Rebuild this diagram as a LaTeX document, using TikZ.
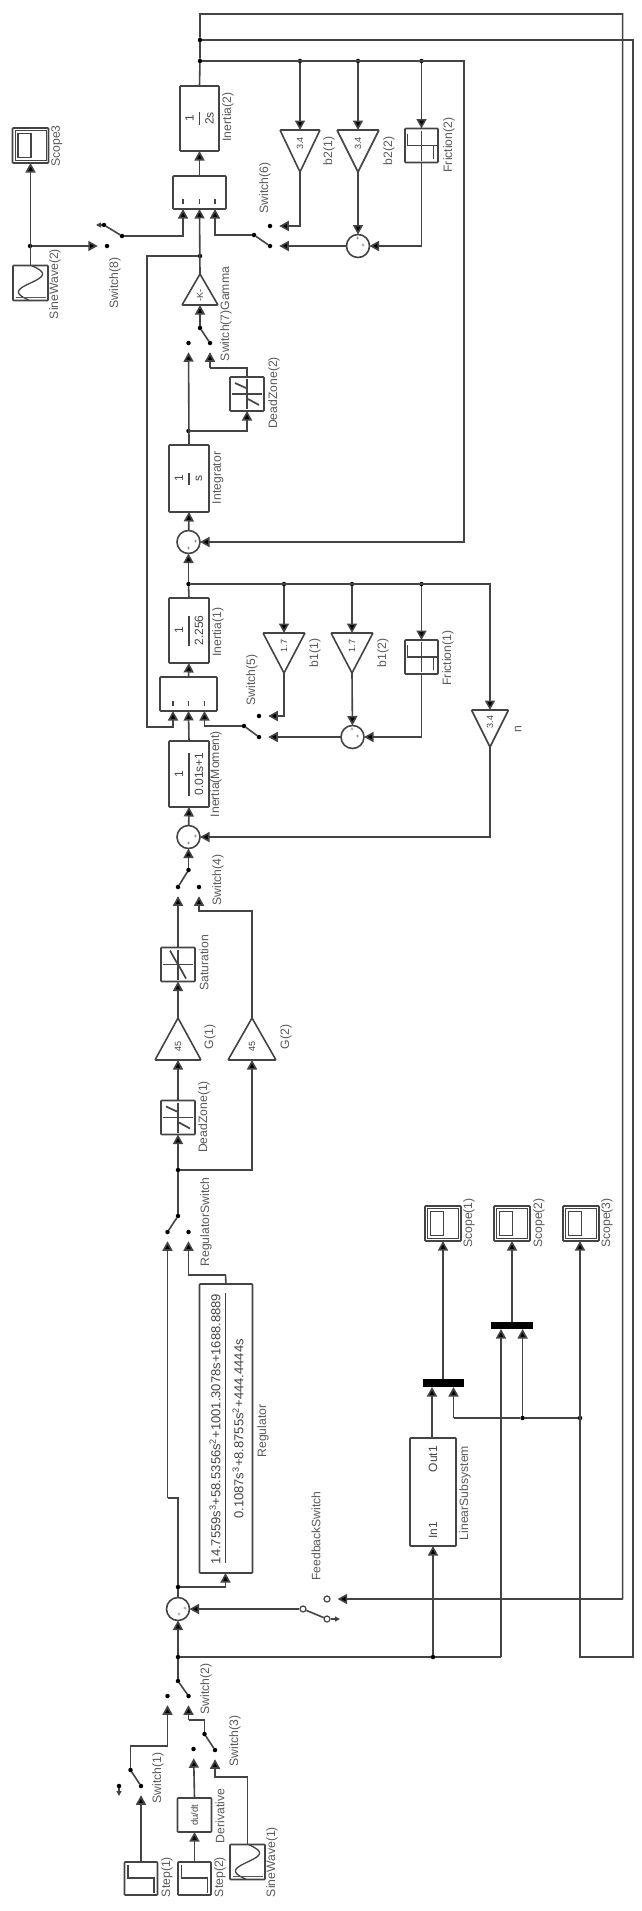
\documentclass[tikz,border=0pt]{standalone}
\usepackage{fontspec}
\setmainfont{Liberation Sans}
\usetikzlibrary{arrows.meta}
\definecolor{ln}{HTML}{444444}
\definecolor{lbl}{HTML}{5A5A5A}
\tikzset{
  wire/.style={draw=ln,line width=1.6pt},
  arr/.style={wire,-{Triangle[length=9.5pt,width=10pt,fill=black]}},
  toterm/.style={arr,shorten >=7pt},
  blk/.style={draw=ln,line width=1.6pt,rounded corners=0.8pt,fill=white,inner sep=0pt,outer sep=0pt},
  jn/.style={circle,fill=black,inner sep=0pt,minimum size=4.5pt,outer sep=0pt},
  sumnode/.style={circle,draw=ln,line width=1.6pt,inner sep=0pt,minimum size=23pt,outer sep=0pt,fill=white},
  lab/.style={rotate=90,text=lbl,inner sep=0pt,font=\fontsize{12.2}{13}\selectfont},
  val/.style={rotate=90,text=ln,inner sep=0pt,font=\fontsize{12}{13}\selectfont},
  icon/.style={draw=ln,line width=1.3pt},
  tiny/.style={text=ln,inner sep=0pt,font=\fontsize{6}{6}\selectfont},
}
% name, cx, cy, w, h
\newcommand{\bbox}[5]{\node[blk,minimum width=#4pt,minimum height=#5pt] (#1) at (#2,#3) {};}
% name, cx, cy, w, h, num, den, linelen
\newcommand{\fracbox}[8]{\bbox{#1}{#2}{#3}{#4}{#5}
  \node[val] (#1n) at (#2-10,#3) {#6};
  \node[val] (#1d) at (#2+10,#3) {#7};
  \draw[icon] (#2,#3-#8/2) -- (#2,#3+#8/2);}
% name, cx, baseY, apexY, halfw, text
\newcommand{\gainblk}[6]{\coordinate (#1in) at (#2,#3);\coordinate (#1out) at (#2,#4);
  \draw[blk] (#2-#5,#3) -- (#2+#5,#3) -- (#2,#4) -- cycle;
  \node[val,font=\fontsize{9}{10}\selectfont] (#1t) at (#2,#3*0.68+#4*0.32) {#6};}
\newcommand{\scopeblk}[3]{\bbox{#1}{#2}{#3}{36}{35}
  \draw[icon,line width=.7pt] (#2-15.5,#3-15) rectangle (#2+15.5,#3+15);
  \draw[icon] (#2-12.5,#3-12) rectangle (#2+0.5,#3+12);}
\newcommand{\stepblk}[3]{\bbox{#1}{#2}{#3}{33}{33}
  \draw[icon] (#2-13,#3-14) -- (#2-13,#3-0.5) -- (#2+13,#3-0.5) -- (#2+13,#3+14);}
\newcommand{\sineblk}[3]{\bbox{#1}{#2}{#3}{35}{35}
  \draw[icon] plot[domain=5:355,samples=50,smooth] ({#2-12*sin(\x)},{#3+18-\x/10});
  \draw[icon,draw=lbl,line width=1.8pt] (#2-15,#3+14.5) -- (#2+15,#3+14.5);}
\newcommand{\crossicon}[2]{\draw[icon] (#1-15,#2) -- (#1+15,#2) (#1,#2-15) -- (#1,#2+15);}
\newcommand{\dzblk}[3]{\bbox{#1}{#2}{#3}{34}{34}\crossicon{#2}{#3}
  \draw[icon,line width=1.7pt] (#2-12,#3-11) -- (#2-1,#3-6) (#2+1,#3+5) -- (#2+12,#3+11);}
\newcommand{\satblk}[3]{\bbox{#1}{#2}{#3}{34}{34}\crossicon{#2}{#3}
  \draw[icon,line width=1.7pt] (#2-8,#3-14) -- (#2-3,#3-5) -- (#2+3,#3+5) -- (#2+8,#3+14);}
\newcommand{\fricblk}[3]{\bbox{#1}{#2}{#3}{33}{34}\crossicon{#2}{#3}
  \draw[icon] (#2-14,#3-12) -- (#2-14,#3) -- (#2+12,#3) -- (#2+12,#3+13);}
% name, cx, cy, mark1 dx dy, mark2 dx dy
\newcommand{\sumb}[7]{\node[sumnode] (#1) at (#2,#3) {};
  \node[tiny] (#1p) at (#2+#4,#3+#5) {+};\node[tiny] (#1q) at (#2+#6,#3+#7) {+};}
\newcommand{\lbl}[4]{\node[lab] (#1) at (#2,#3) {#4};}
\begin{document}
\begin{tikzpicture}[x=1pt,y=-1pt]
\useasboundingbox (0,0) rectangle (642,1911);
\fill[white] (0,0) rectangle (642,1911);

% ---------- blocks, top stage
\fracbox{ineB}{199.5}{118.5}{39}{65}{1}{2s}{13}
\bbox{muxB}{199.5}{192.5}{53}{33}
\draw[icon] (183,199) -- (183,204) (199.5,199) -- (199.5,204) (215,199) -- (215,204);
\gainblk{bBa}{300}{130}{172}{20}{3.4}
\gainblk{bBb}{358}{130}{172}{21}{3.4}
\fricblk{fricB}{421.5}{145.5}
\sumb{sumBi}{358}{246}{-0.5}{-7}{5}{0}
\scopeblk{scopeT}{30.5}{145.5}
\sineblk{sineB}{30.5}{283}
\gainblk{gam}{200}{305}{274}{18}{-K-}
\dzblk{dzB}{247}{394}
\fracbox{integ}{189}{478.5}{40}{67}{1}{s}{12}
\sumb{sumBo}{188.5}{542}{0}{7}{7}{0}

% ---------- blocks, second stage
\fracbox{ineA}{189}{630.5}{40}{65}{1}{2.256}{30}
\bbox{muxA}{188.5}{694}{57}{34}
\draw[icon] (173,701) -- (173,706) (188.5,701) -- (188.5,706) (204.5,701) -- (204.5,706);
\gainblk{bAa}{284}{633}{673}{21}{1.7}
\gainblk{bAb}{352}{633}{673}{21}{1.7}
\fricblk{fricA}{421.5}{657}
\sumb{sumAi}{352.5}{737}{-0.5}{-7}{5}{0}
\gainblk{ngain}{490}{710}{747}{18.5}{3.4}
\fracbox{ineM}{189}{774}{40}{66}{1}{0.01s+1}{43}
\sumb{sumM}{188.5}{837}{0}{7}{7}{0}

% ---------- blocks, amplifier
\satblk{sat}{178}{964.5}
\gainblk{Ga}{178}{1060}{1018}{23}{45}
\gainblk{Gb}{252}{1060}{1018}{24}{45}
\dzblk{dzA}{178}{1117.5}

% ---------- regulator
\bbox{reg}{226}{1428.5}{53}{289}
\node[val,font=\fontsize{13}{14}\selectfont] (regn) at (215,1429) {14.7559s\textsuperscript{3}+58.5356s\textsuperscript{2}+1001.3078s+1688.8889};
\node[val,font=\fontsize{13}{14}\selectfont] (regd) at (238,1429) {0.1087s\textsuperscript{3}+8.8755s\textsuperscript{2}+444.4444s};
\draw[icon] (225.5,1293) -- (225.5,1563);
\sumb{sumE}{178}{1609}{1}{6}{7}{0}

% ---------- linear part and scopes
\bbox{lin}{433}{1492}{46}{108}
\node[val] (linout) at (433,1459) {Out1};
\node[val] (linin) at (433,1530) {In1};
\scopeblk{scopeA}{443}{1223.5}
\scopeblk{scopeC}{512}{1223.5}
\scopeblk{scopeD}{581}{1223.5}
\node[fill=black,inner sep=0pt,minimum width=41pt,minimum height=8pt] (muxP) at (443.5,1383) {};
\node[fill=black,inner sep=0pt,minimum width=42pt,minimum height=7pt] (muxQ) at (512,1325.5) {};

% ---------- sources
\stepblk{stepA}{141}{1878.5}
\stepblk{stepC}{194.5}{1878.5}
\bbox{deriv}{194.5}{1815}{34}{34}
\node[val,font=\fontsize{9.5}{10}\selectfont] (dudt) at (194.5,1815) {du/dt};
\sineblk{sineA}{247.5}{1862}

% ---------- switch terminals
\node[jn] (tBa) at (122,236) {};\node[jn] (tBb) at (107,246) {};\node[jn] (tBc) at (104,225) {};
\coordinate (tBx) at (96,225);
\node[jn] (eBa) at (254,235) {};\node[jn] (eBb) at (270,246) {};\node[jn] (eBc) at (270,226) {};
\node[jn] (kTa) at (200,328) {};\node[jn] (kTb) at (210,343) {};\node[jn] (kTc) at (188.5,343) {};
\node[jn] (eAa) at (244,726) {};\node[jn] (eAb) at (259,737) {};\node[jn] (eAc) at (259,716) {};
\node[jn] (hTa) at (188.5,870) {};\node[jn] (hTb) at (178,887) {};\node[jn] (hTc) at (199,887) {};
\node[jn] (rTa) at (178,1216) {};\node[jn] (rTb) at (167.5,1232) {};\node[jn] (rTc) at (188.5,1232) {};
\node[jn] (wBa) at (178,1681) {};\node[jn] (wBb) at (188.5,1696) {};\node[jn] (wBc) at (167.5,1696) {};
\node[jn] (wCa) at (204.5,1734) {};\node[jn] (wCb) at (215,1750) {};\node[jn] (wCc) at (193.5,1749) {};
\node[jn] (wAa) at (130.5,1770) {};\node[jn] (wAb) at (141,1786) {};\node[jn] (wAc) at (119,1786) {};
\coordinate (wAx) at (119,1796);
\node[circle,draw=ln,line width=1.2pt,fill=white,inner sep=0pt,minimum size=6pt] (fbO) at (303,1609) {};
\node[circle,draw=ln,line width=1.2pt,fill=white,inner sep=0pt,minimum size=6pt] (fbA) at (327,1599) {};
\node[circle,draw=ln,line width=1.2pt,fill=white,inner sep=0pt,minimum size=6pt] (fbB) at (327,1619) {};
\coordinate (fbX) at (340,1619);

% ---------- switch arms
\draw[wire] (tBa) -- (tBc) (eBa) -- (eBb) (kTa) -- (kTb) (eAa) -- (eAb) (hTa) -- (hTb)
  (rTa) -- (rTb) (wBa) -- (wBb) (wCa) -- (wCb) (wAa) -- (wAb) (fbO) -- (fbB);
\draw[wire,{Triangle[length=5pt,width=5pt,fill=black]}-] (tBx) -- (tBc);
\draw[wire,{Triangle[length=5pt,width=5pt,fill=black]}-] (wAx) -- (wAc);
\draw[wire,-{Triangle[length=5pt,width=5pt,fill=black]}] (fbB) -- (fbX);

% ---------- junctions
\node[jn] (jT) at (200,40) {};
\node[jn] (jTb) at (200,61) {};
\node[jn] (jBa) at (300,61) {};
\node[jn] (jBb) at (358,61) {};
\node[jn] (jBc) at (421.5,61) {};
\node[jn] (jS) at (30,246) {};
\node[jn] (jG) at (200,256) {};
\node[jn] (jI) at (188.5,431) {};
\node[jn] (jA) at (188.5,584) {};
\node[jn] (jAa) at (284,584) {};
\node[jn] (jAb) at (352,584) {};
\node[jn] (jAc) at (421.5,584) {};
\node[jn] (jR) at (178,1170) {};
\node[jn] (jL) at (522.6,1418) {};
\node[jn] (jD) at (580,1418) {};
\node[jn] (jE) at (178,1587) {};
\node[jn] (jM) at (178,1657) {};
\node[jn] (jN) at (433,1657) {};

% ---------- routing corners
\coordinate (cA) at (200,14);
\coordinate (cB) at (622.6,14);
\coordinate (cC) at (622.6,1599);
\coordinate (cD) at (633,40);
\coordinate (cE) at (633,1657);
\coordinate (cF) at (580,1657);
\coordinate (cG) at (464,61);
\coordinate (cH) at (464,542);
\coordinate (cI) at (490,584);
\coordinate (cJ) at (490,837);
\coordinate (mBl) at (183,209);
\coordinate (mBr) at (215,209);
\coordinate (mAl) at (173,711);
\coordinate (mAr) at (204.5,711);
\coordinate (cK) at (147,256);
\coordinate (cL) at (147,727);
\coordinate (cM) at (173,727);
\coordinate (cN) at (252,911);
\coordinate (cO) at (199,911);
\coordinate (dzBt) at (247,368);
\coordinate (dzBu) at (210,368);
\coordinate (cP) at (167.5,1498);
\coordinate (cQ) at (178,1498);
\coordinate (cR) at (188.5,1275);
\coordinate (cS) at (225.5,1275);
\coordinate (cU) at (225.5,1573);
\coordinate (cV) at (501,1657);
\coordinate (pPa) at (432,1387);
\coordinate (pPb) at (453.5,1387);
\coordinate (pQa) at (501,1329);
\coordinate (pQb) at (522.6,1329);
\coordinate (cW) at (453.5,1418);
\coordinate (cX) at (188.5,1720);
\coordinate (cY) at (204.5,1720);
\coordinate (cZ) at (215,1777);
\coordinate (dA) at (247.5,1777);
\coordinate (dB) at (167.5,1746);
\coordinate (dC) at (130.5,1746);
\coordinate (dD) at (183,236);
\coordinate (dE) at (215,235);
\coordinate (dF) at (204.5,726);

% ---------- top stage wires
\draw[wire] (ineB.north) -- (jTb) -- (jT) -- (cA) -- (cB) -- (cC);
\draw[toterm] (cC) -- (fbA);
\draw[arr] (jT) -- (cD) -- (cE) -- (cF) -- (scopeD.south -| cF);
\draw[arr] (jTb) -- (cG) -- (cH) -- (sumBo);
\draw[arr] (jBa) -- (bBain);
\draw[arr] (jBb) -- (bBbin);
\draw[arr] (jBc) -- (fricB.north);
\draw[arr] (muxB.north) -- (ineB.south);
\draw[toterm] (jS) -- (tBb);
\draw[arr] (sineB.north) -- (scopeT.south);
\draw[arr] (tBa) -- (dD) -- (mBl);
\draw[arr] (gamout) -- (muxB.south);
\draw[arr] (eBa) -- (dE) -- (mBr);
\draw[toterm] (bBaout) |- (eBc);
\draw[arr] (bBbout) -- (sumBi);
\draw[arr] (fricB.south) |- (sumBi);
\draw[toterm] (sumBi) -- (eBb);
\draw[arr] (jG) -- (cK) -- (cL) -- (cM) -- (mAl);
\draw[arr] (kTa) -- (gamin);
\draw[toterm] (integ.north) -- (kTc);
\draw[arr] (jI) -| (dzB.south);
\draw[wire] (dzB.north) -- (dzBt) -- (dzBu);
\draw[toterm] (dzBu) -- (kTb);
\draw[arr] (sumBo) -- (integ.south);

% ---------- second stage wires
\draw[arr] (jA) -- (sumBo);
\draw[wire] (ineA.north) -- (jA);
\draw[arr] (jA) -- (cI) -- (ngainin);
\draw[arr] (jAa) -- (bAain);
\draw[arr] (jAb) -- (bAbin);
\draw[arr] (jAc) -- (fricA.north);
\draw[arr] (muxA.north) -- (ineA.south);
\draw[arr] (ineM.north) -- (muxA.south);
\draw[arr] (eAa) -- (dF) -- (mAr);
\draw[toterm] (bAaout) |- (eAc);
\draw[arr] (bAbout) -- (sumAi);
\draw[arr] (fricA.south) |- (sumAi);
\draw[toterm] (sumAi) -- (eAb);
\draw[arr] (ngainout) -- (cJ) -- (sumM);
\draw[arr] (sumM) -- (ineM.south);
\draw[arr] (hTa) -- (sumM);

% ---------- amplifier wires
\draw[toterm] (sat.north) -- (hTb);
\draw[toterm] (Gbout) -- (cN) -- (cO) -- (hTc);
\draw[arr] (Gaout) -- (sat.south);
\draw[arr] (dzA.north) -- (Gain);
\draw[arr] (jR) -- (dzA.south);
\draw[arr] (jR) -| (Gbin);
\draw[wire] (rTa) -- (jR);

% ---------- regulator and loop wires
\draw[toterm] (cP) -- (rTb);
\draw[wire] (sumE) -- (jE) -- (cQ) -- (cP);
\draw[toterm] (cS) -- (cR) -- (rTc);
\draw[wire] (reg.north) -- (cS);
\draw[arr] (jE) -| (cU);
\draw[arr] (fbO) -- (sumE);
\draw[arr] (jM) -- (sumE);
\draw[wire] (wBa) -- (jM);
\draw[wire] (jM) -- (jN) -- (cV);
\draw[arr] (jN) -- (lin.south);
\draw[arr] (cV) -- (pQa);

% ---------- linear and scopes wires
\draw[arr] (lin.north -| pPa) -- (pPa);
\draw[arr] (muxP.north -| scopeA) -- (scopeA.south);
\draw[arr] (muxQ.north) -- (scopeC.south);
\draw[arr] (jL) -- (pQb);
\draw[arr] (cW) -- (pPb);
\draw[wire] (cW) -- (jL) -- (jD);

% ---------- source wires
\draw[toterm] (cX) -- (wBb);
\draw[wire] (wCa) -- (cY) -- (cX);
\draw[toterm] (sineA.north) -- (dA) -- (cZ) -- (wCb);
\draw[toterm] (deriv.north) -- (wCc);
\draw[arr] (stepC.north) -- (deriv.south);
\draw[toterm] (wAa) -- (dC) -- (dB) -- (wBc);
\draw[toterm] (stepA.north) -- (wAb);

% ---------- labels
\lbl{lineB}{228}{117}{Inertia(2)}
\lbl{lscopeT}{57}{146}{Scope3}
\lbl{lsineB}{55}{284}{SineWave(2)}
\lbl{lswE}{115}{283}{Switch(8)}
\lbl{lbBa}{329}{151}{b2(1)}
\lbl{lbBb}{389}{151}{b2(2)}
\lbl{lfricB}{449}{145}{Friction(2)}
\lbl{lswF}{265}{188}{Switch(6)}
\lbl{lgam}{226}{314}{Switch(7)Gamma}
\lbl{ldzB}{274}{393}{DeadZone(2)}
\lbl{linteg}{218}{478}{Integrator}
\lbl{lineA}{218}{632}{Inertia(1)}
\lbl{lbAa}{315}{653}{b1(1)}
\lbl{lbAb}{383}{653}{b1(2)}
\lbl{lfricA}{448}{658}{Friction(1)}
\lbl{lswD}{252}{680}{Switch(5)}
\lbl{lngain}{518}{729}{n}
\lbl{lineM}{216}{774}{Inertia(Moment)}
\lbl{lswC}{218}{880}{Switch(4)}
\lbl{lsat}{204}{963}{Saturation}
\lbl{lGa}{210}{1037}{G(1)}
\lbl{lGb}{286}{1037}{G(2)}
\lbl{ldzA}{204}{1117}{DeadZone(1)}
\lbl{lrsw}{206}{1222}{RegulatorSwitch}
\lbl{lscA}{469}{1223}{Scope(1)}
\lbl{lscC}{539}{1223}{Scope(2)}
\lbl{lscD}{607}{1223}{Scope(3)}
\lbl{lreg}{263}{1431}{Regulator}
\lbl{llin}{465}{1493}{LinearSubsystem}
\lbl{lfb}{316}{1536}{FeedbackSwitch}
\lbl{lswB}{206}{1689}{Switch(2)}
\lbl{lswG}{235}{1741}{Switch(3)}
\lbl{lswA}{158}{1778}{Switch(1)}
\lbl{lderiv}{220}{1816}{Derivative}
\lbl{lsineA}{272}{1862}{SineWave(1)}
\lbl{lstA}{167}{1877}{Step(1)}
\lbl{lstC}{220}{1877}{Step(2)}
\end{tikzpicture}
\end{document}
